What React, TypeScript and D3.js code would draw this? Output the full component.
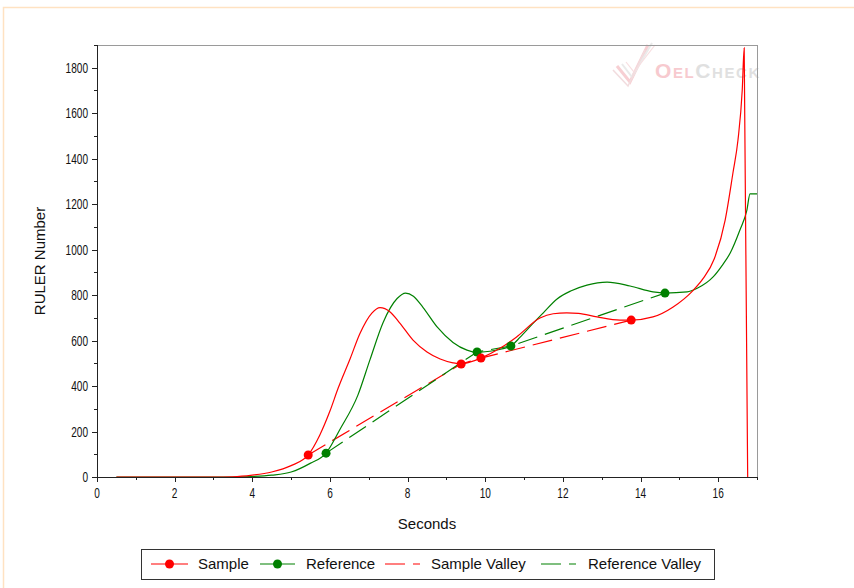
import React from "react";
import * as d3 from "d3";

// ---- data ----
const sampleSeconds = [0.5, 1, 2, 3, 3.5, 4, 4.5, 5, 5.44, 5.74, 6.0, 6.21, 6.52, 6.77, 7.08, 7.29, 7.55, 7.8, 8.14, 8.5, 8.84, 9.17, 9.38, 9.6, 9.89, 10.4, 10.8, 11.41, 11.75, 12.1, 12.4, 12.88, 13.47, 13.76, 14.32, 14.84, 15.35, 15.6, 15.9, 16.18, 16.38, 16.51, 16.62, 16.67, 16.76];
const sampleValues = [0, 0, 0, 0, 1, 8, 22, 50, 97, 185, 290, 390, 520, 630, 721, 745, 726, 677, 602, 550, 519, 502, 497, 505, 523, 568, 615, 699, 718, 722, 720, 704, 690, 690, 704, 748, 820, 870, 960, 1130, 1337, 1482, 1702, 1887, 0];

const referenceSeconds = [0.5, 2, 3.5, 4, 4.5, 5, 5.49, 5.9, 6.26, 6.72, 7.03, 7.37, 7.73, 7.95, 8.15, 8.4, 8.76, 9.17, 9.53, 9.79, 10.12, 10.4, 10.66, 10.9, 11.2, 11.49, 11.85, 12.2, 12.62, 13.14, 13.73, 14.32, 14.63, 15.2, 15.46, 15.87, 16.1, 16.31, 16.56, 16.74, 16.82, 17];
const referenceValues = [0, 0, 0, 2, 8, 22, 60, 105, 210, 360, 515, 680, 785, 809, 795, 745, 660, 592, 558, 548, 553, 562, 576, 615, 670, 721, 783, 818, 844, 857, 840, 814, 809, 814, 830, 880, 930, 985, 1086, 1174, 1245, 1245];

const sampleValleySeconds = [5.44, 9.38, 9.89, 13.76];
const sampleValleyValues = [97, 497, 523, 690];
const referenceValleySeconds = [5.9, 9.79, 10.66, 14.63];
const referenceValleyValues = [105, 550, 576, 809];

const xMajorTicks = [0, 2, 4, 6, 8, 10, 12, 14, 16];
const xMinorTicks = [1, 3, 5, 7, 9, 11, 13, 15, 17];
const yMajorTicks = [0, 200, 400, 600, 800, 1000, 1200, 1400, 1600, 1800];
const yMinorTicks = [100, 300, 500, 700, 900, 1100, 1300, 1500, 1700, 1900];

const legendLabels = ["Sample", "Reference", "Sample Valley", "Reference Valley"];

const RED = "#ff0000";
const GREEN = "#008000";
const FONT = "'Liberation Sans', Arial, sans-serif";

export default function App() {
  const left = 97, right = 757, top = 45, bottom = 477;
  const x = d3.scaleLinear().domain([0, 17]).range([left, right]);
  const y = d3.scaleLinear().domain([0, 1900]).range([bottom, top]);

  const pts = (xs: number[], ys: number[]) => xs.map((s, i) => [s, ys[i]] as [number, number]);
  const curve = d3.line<[number, number]>().x(d => x(d[0])).y(d => y(d[1])).curve(d3.curveMonotoneX);
  const straight = d3.line<[number, number]>().x(d => x(d[0])).y(d => y(d[1]));

  const samplePts = pts(sampleSeconds, sampleValues);
  const refPts = pts(referenceSeconds, referenceValues);
  const sValley = pts(sampleValleySeconds, sampleValleyValues);
  const rValley = pts(referenceValleySeconds, referenceValleyValues);

  const narrow = 0.72;

  const legendItems = [
    { label: legendLabels[0], color: RED, dashed: false, x0: 151, x1: 188, tx: 198 },
    { label: legendLabels[1], color: GREEN, dashed: false, x0: 260, x1: 295, tx: 306 },
    { label: legendLabels[2], color: RED, dashed: true, x0: 385, x1: 420, tx: 431 },
    { label: legendLabels[3], color: GREEN, dashed: true, x0: 541, x1: 576, tx: 588 },
  ];
  const ly = 564;

  return (
    <svg width={854} height={588} style={{ position: "absolute", left: 0, top: 0, background: "#fff" }} fontFamily={FONT}>
      {/* page frame */}
      <rect x={3.5} y={7.5} width={870} height={600} fill="none" stroke="#ffe2c2" strokeWidth={1.5} />

      {/* watermark */}
      <g opacity={0.55}>
        <path d="M617,66 L630,82 L648,45" fill="none" stroke="#f2a9b0" strokeWidth={3} />
        <path d="M622,64 L632,77 L652,43" fill="none" stroke="#d9d9d9" strokeWidth={2} />
        <path d="M613,70 L628,86 L645,50" fill="none" stroke="#e8c0c4" strokeWidth={1.5} />
        <path d="M626,62 L634,72 L655,45" fill="none" stroke="#f2c4c8" strokeWidth={1.2} />
        <text x={655} y={78} fontWeight="bold" letterSpacing={1.6}>
          <tspan fill="#f2a0a8" fontSize={21}>O</tspan>
          <tspan fill="#f2a0a8" fontSize={15}>EL</tspan>
          <tspan fill="#c8c8c8" fontSize={21}>C</tspan>
          <tspan fill="#c8c8c8" fontSize={15}>HECK</tspan>
        </text>
      </g>

      {/* plot frame */}
      <line x1={left} x2={right} y1={top + 0.5} y2={top + 0.5} stroke="#9a9a9a" />
      <line x1={right + 0.5} x2={right + 0.5} y1={top} y2={bottom} stroke="#9a9a9a" />

      {/* curves */}
      <g>
        <path d={straight(sValley) || ""} fill="none" stroke={RED} strokeWidth={1.2} strokeDasharray="20,8" />
        <path d={straight(rValley) || ""} fill="none" stroke={GREEN} strokeWidth={1.2} strokeDasharray="20,8" />
        <path d={curve(refPts) || ""} fill="none" stroke={GREEN} strokeWidth={1.2} />
        <path d={curve(samplePts) || ""} fill="none" stroke={RED} strokeWidth={1.2} />
        {rValley.map((d, i) => (
          <circle key={"r" + i} cx={x(d[0])} cy={y(d[1])} r={4.5} fill={GREEN} />
        ))}
        {sValley.map((d, i) => (
          <circle key={"s" + i} cx={x(d[0])} cy={y(d[1])} r={4.5} fill={RED} />
        ))}
      </g>

      {/* axes */}
      <line x1={left + 0.5} x2={left + 0.5} y1={top} y2={bottom + 1} stroke="#222" />
      <line x1={left} x2={right + 1} y1={bottom + 0.5} y2={bottom + 0.5} stroke="#222" />
      {yMajorTicks.map(t => (
        <g key={"ym" + t}>
          <line x1={left - 5} x2={left} y1={Math.round(y(t)) + 0.5} y2={Math.round(y(t)) + 0.5} stroke="#222" />
          <text transform={`translate(${left - 9},${y(t) + 5}) scale(${narrow},1)`} textAnchor="end" fontSize={14} fill="#111">{t}</text>
        </g>
      ))}
      {yMinorTicks.map(t => (
        <line key={"yn" + t} x1={left - 3} x2={left} y1={Math.round(y(t)) + 0.5} y2={Math.round(y(t)) + 0.5} stroke="#222" />
      ))}
      {xMajorTicks.map(t => (
        <g key={"xm" + t}>
          <line x1={Math.round(x(t)) + 0.5} x2={Math.round(x(t)) + 0.5} y1={bottom} y2={bottom + 5} stroke="#222" />
          <text transform={`translate(${x(t)},${bottom + 21}) scale(${narrow},1)`} textAnchor="middle" fontSize={14} fill="#111">{t}</text>
        </g>
      ))}
      {xMinorTicks.map(t => (
        <line key={"xn" + t} x1={Math.round(x(t)) + 0.5} x2={Math.round(x(t)) + 0.5} y1={bottom} y2={bottom + 3} stroke="#222" />
      ))}

      {/* axis titles */}
      <text x={(left + right) / 2} y={529} textAnchor="middle" fontSize={15} fill="#111">Seconds</text>
      <text transform={`translate(45,${(top + bottom) / 2}) rotate(-90)`} textAnchor="middle" fontSize={15} fill="#111">RULER Number</text>

      {/* legend */}
      <rect x={141.5} y={549.5} width={573} height={30} fill="#fff" stroke="#333" />
      {legendItems.map((it, i) => (
        <g key={"lg" + i}>
          <line x1={it.x0} x2={it.x1} y1={ly} y2={ly} stroke={it.color} strokeWidth={1.2} strokeDasharray={it.dashed ? "20,8" : undefined} />
          {!it.dashed && <circle cx={(it.x0 + it.x1) / 2} cy={ly} r={4.5} fill={it.color} />}
          <text x={it.tx} y={ly + 5} fontSize={15} fill="#111">{it.label}</text>
        </g>
      ))}
    </svg>
  );
}
